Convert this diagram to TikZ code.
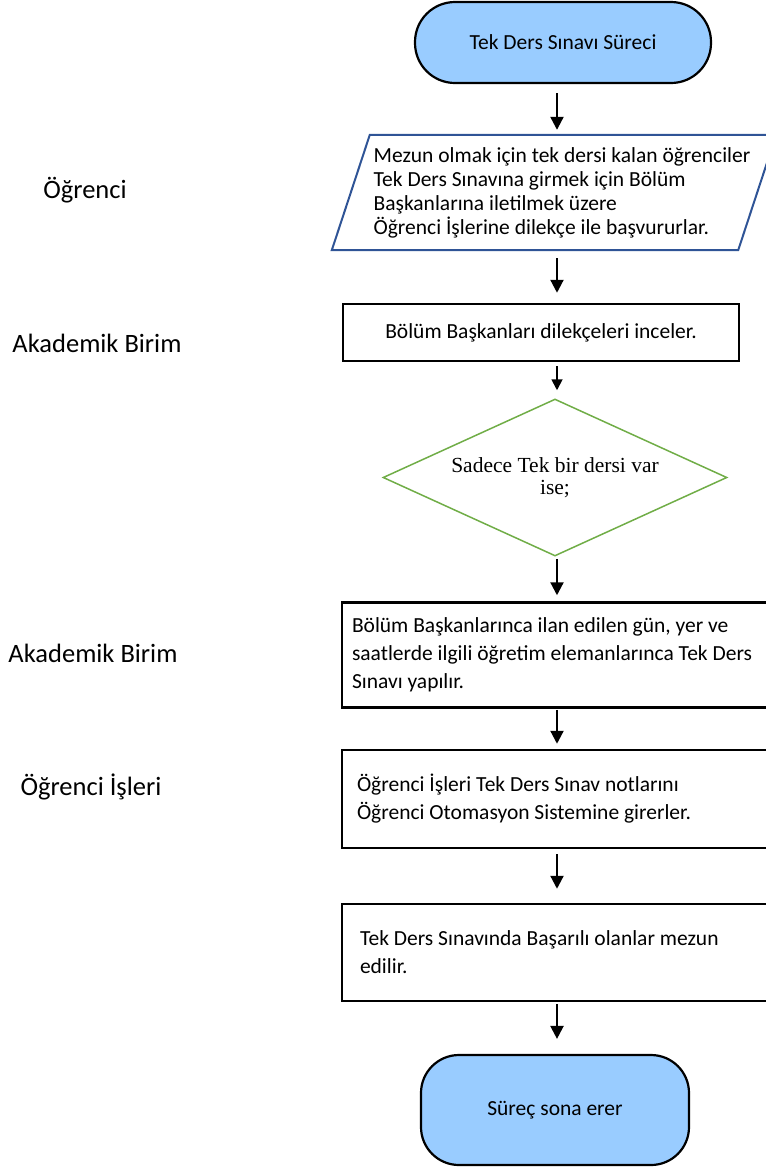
\documentclass[tikz,border=0pt]{standalone}
\usepackage{fontspec}
\setmainfont{Carlito}
\newfontfamily\decfont{Liberation Serif}
\usetikzlibrary{shapes.geometric,arrows.meta}
\definecolor{termblue}{RGB}{153,204,255}
\definecolor{ioblue}{RGB}{47,84,150}
\definecolor{decgreen}{RGB}{112,173,71}

\begin{document}
\begin{tikzpicture}[x=1pt, y=-1pt, node distance={150pt},
	term/.style = {draw, line width=2.2pt, fill=termblue, rounded corners=40pt, minimum width=296pt, minimum height=81pt, font=\fontsize{21.5}{24}\selectfont},
	io/.style = {draw=none, minimum width=444pt, minimum height=115pt, align=flush left, font=\fontsize{21.5}{24}\selectfont},
	box/.style = {draw, line width=2.5pt, align=flush left, font=\fontsize{21.5}{28}\selectfont},
	dec/.style = {draw=decgreen, line width=1.5pt, diamond, aspect=2.2, inner sep=2pt, minimum width=344pt, minimum height=157pt, align=center, font=\decfont\fontsize{21.5}{22}\selectfont},
	lane/.style = {draw=none, font=\fontsize{26.5}{30}\selectfont},
	arr/.style = {-{Triangle[length=13pt,width=13pt]}, line width=2.2pt}]
\useasboundingbox (0,0) rectangle (766,1168);
\clip (0,0) rectangle (766,1168);
\coordinate (ax) at (557,0);
\node[term] (0) at (563,42.5) {Tek Ders Sınavı Süreci};
	\node[io] (1) [node distance=150pt, below of=0, xshift=-1pt] {Mezun olmak için tek dersi kalan öğrenciler\\ Tek Ders Sınavına girmek için Bölüm\\ Başkanlarına iletilmek üzere\\ Öğrenci İşlerine dilekçe ile başvururlar.};
\node[box, align=center, minimum width=396pt, minimum height=57pt] (2) [node distance=140pt, below of=1, xshift=-21pt] {Bölüm Başkanları dilekçeleri inceler.};
	\node[dec] (3) [node distance=145pt, below of=2, xshift=14pt] {Sadece Tek bir dersi var\\ ise;};
\node[box, minimum width=430pt, minimum height=105pt, text width=410pt] (4) [node distance=177.5pt, below of=3, xshift=2pt] {Bölüm Başkanlarınca ilan edilen gün, yer ve\\ saatlerde ilgili öğretim elemanlarınca Tek Ders\\ Sınavı yapılır.};
	\node[box, minimum width=430pt, minimum height=98pt, text width=400pt] (5) [node distance=144pt, below of=4] {Öğrenci İşleri Tek Ders Sınav notlarını\\ Öğrenci Otomasyon Sistemine girerler.};
\node[box, minimum width=430pt, minimum height=97pt, text width=394pt] (6) [node distance=153.5pt, below of=5] {Tek Ders Sınavında Başarılı olanlar mezun\\ edilir.};
	\node[term, rounded corners=38pt, minimum width=268pt, minimum height=110pt] (7) [node distance=157.5pt, below of=6, xshift=-2pt] {Süreç sona erer};
% lane labels
\node[lane] (10) at (85,190) {Öğrenci};
\node[lane] (11) at (97,343) {Akademik Birim};
\node[lane] (12) at (93,653) {Akademik Birim};
\node[lane] (13) at (91,787) {Öğrenci İşleri};
% parallelogram
\draw[draw=ioblue, line width=2pt] ([xshift=30pt]1.north west) -- ([xshift=-8pt]1.north east) -- ([xshift=-46pt]1.south east) -- ([xshift=-8pt]1.south west) -- cycle;
\draw[arr, shorten <=9pt, shorten >=5pt] (0.south -| ax) -- (1.north -| ax);
\draw[arr, shorten <=8pt, shorten >=10pt] (1.south -| ax) -- (2.north -| ax);
\draw[arr, -{Triangle[length=11pt,width=11pt]}, line width=1.8pt, shorten <=4pt, shorten >=8pt] (2.south -| ax) -- (3.north -| ax);
\draw[arr, shorten <=2pt, shorten >=6pt] (3.south -| ax) -- (4.north -| ax);
\draw[arr, shorten <=1pt, shorten >=5pt] (4.south -| ax) -- (5.north -| ax);
\draw[arr, shorten <=5pt, shorten >=14pt] (5.south -| ax) -- (6.north -| ax);
\draw[arr, shorten <=2pt, shorten >=15pt] (6.south -| ax) -- (7.north -| ax);
\end{tikzpicture}
\end{document}
